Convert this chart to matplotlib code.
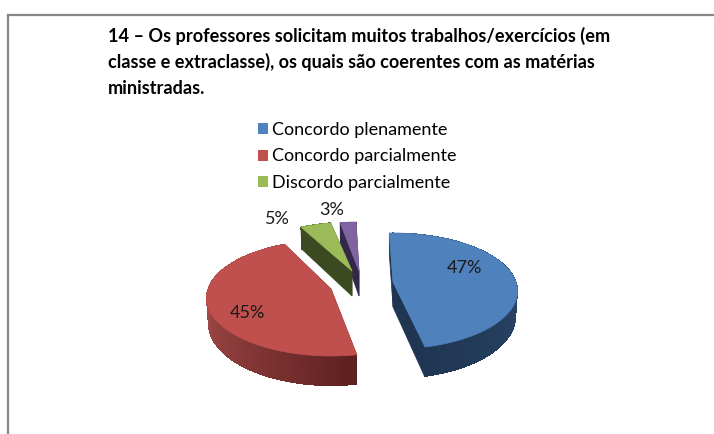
# 3D looking exploded pie, drawn by hand on a pixel sized axes
import numpy as np
import matplotlib
matplotlib.use('Agg')
import matplotlib.pyplot as plt
from matplotlib.patches import Patch, Polygon

# the data
categories = ['Concordo plenamente', 'Concordo parcialmente', 'Discordo parcialmente', 'Outros']
values = [47, 45, 5, 3]
legend_labels = categories[:3]
title_lines = ['14 – Os professores solicitam muitos trabalhos/exercícios (em',
               'classe e extraclasse), os quais são coerentes com as matérias',
               'ministradas.']

# look of the pie
top_colors = ['#4f81bd', '#c0504d', '#9bbb59', '#8064a2']
wall_far = ['#1f3552', '#a64c4a', '#3c4a22', '#33284a']
wall_near = ['#2a4768', '#5e2120', '#3c4a22', '#33284a']
face_colors = ['#1f3552', '#5e2120', '#3c4a22', '#33284a']
centers = [(393, 282), (331, 289), (352, 271), (359, 271)]
label_pos = [(464, 268), (247, 313), (277, 219), (332, 210)]
angle_warp = [0, 6, 3, 6]
start_angle = -2
radius_x = 123
radius_y = 56.6
persp = 0.155
depth = 25

plt.rcParams['font.family'] = ['Lato', 'DejaVu Sans']

fig = plt.figure(figsize=(7.14, 4.34), dpi=100)
axs = fig.add_axes([0, 0, 1, 1])
axs.set_xlim(0, 714)
axs.set_ylim(434, 0)
axs.axis('off')

# grey chart frame, only top and left are inside the picture
axs.plot([7.5, 7.5, 714], [434, 14.5, 14.5], color='#868686', linewidth=1.6,
         solid_joinstyle='miter')


def rim(center, theta, warp, lower=False):
    # point on the pie edge, theta in degrees clockwise from the far side
    t = np.radians(theta - warp * np.sin(np.radians(2 * theta)))
    s = 1 / (1 + persp * np.cos(t))
    a = radius_x * 0.985 if lower else radius_x
    x = center[0] + a * np.sin(t) * s
    y = center[1] - radius_y * np.cos(t) * s
    if lower:
        y = y + depth * s
    return np.column_stack([x, y])


def mix(c1, c2, f):
    c1 = np.array(matplotlib.colors.to_rgb(c1))
    c2 = np.array(matplotlib.colors.to_rgb(c2))
    return tuple(c1 + (c2 - c1) * f)


edges = start_angle + np.cumsum([0] + values) * 360 / sum(values)

# back slices first so the front ones go over them
for i in [3, 2, 0, 1]:
    c = centers[i]
    th = np.linspace(edges[i], edges[i + 1], 90)
    upper = rim(c, th, angle_warp[i])
    lower = rim(c, th, angle_warp[i], lower=True)
    c_low = (c[0], c[1] + depth)

    # the two cut faces
    for k in [0, -1]:
        pts = [c, upper[k], lower[k], c_low]
        axs.add_patch(Polygon(pts, closed=True, facecolor=face_colors[i],
                              edgecolor=face_colors[i], linewidth=0.5))

    # smooth silhouette for the wall, then thin strips for the shading
    pts = np.vstack([upper, lower[::-1]])
    axs.add_patch(Polygon(pts, closed=True, facecolor=face_colors[i],
                          edgecolor='none'))
    for j in range(len(th) - 1):
        f = np.clip((270 - th[j]) / 100, 0, 1)
        if i == 0:
            f = np.clip((169 - th[j]) / 80, 0, 1)
        col = mix(wall_far[i], wall_near[i], f)
        pts = [upper[j], upper[j + 1], lower[j + 1], lower[j]]
        axs.add_patch(Polygon(pts, closed=True, facecolor=col, edgecolor='none',
                              antialiased=False))

    # top of the slice
    pts = np.vstack([[c], upper])
    axs.add_patch(Polygon(pts, closed=True, facecolor=top_colors[i],
                          edgecolor=top_colors[i], linewidth=0.5))

# percent labels
for v, p in zip(values, label_pos):
    axs.text(p[0], p[1], str(v) + '%', fontsize=13, color='#1a1a1a',
             ha='center', va='center')

# title
for line, y in zip(title_lines, [36, 62, 89]):
    axs.text(108, y, line, fontsize=13.1, fontweight='bold', color='black',
             ha='left', va='center')

# legend, the last category is not listed in it
handles = [Patch(facecolor=col, edgecolor='none') for col in top_colors[:3]]
axs.legend(handles, legend_labels, loc='upper left',
           bbox_to_anchor=(258 / 714, 1 - 122 / 434), frameon=False,
           fontsize=13, handlelength=0.55, handleheight=0.55,
           handletextpad=0.25, labelspacing=0.58, borderpad=0, borderaxespad=0)

fig.savefig('out.png', dpi=100)
